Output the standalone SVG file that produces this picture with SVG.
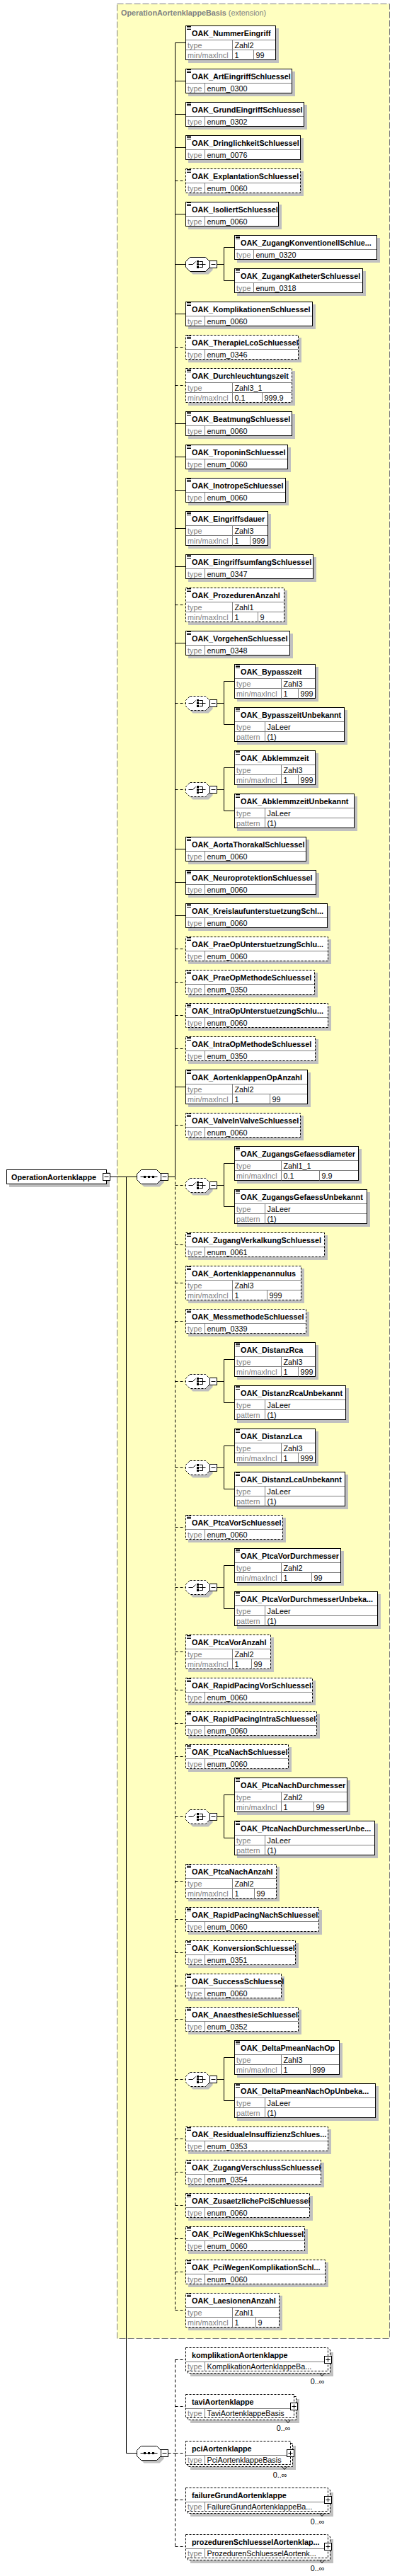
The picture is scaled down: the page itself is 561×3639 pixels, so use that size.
<svg xmlns="http://www.w3.org/2000/svg" width="561" height="3639" viewBox="0 0 561 3639">
<style>
text{font-family:"Liberation Sans",Arial,sans-serif;font-size:10.8px;fill:#000}
.h{font-weight:bold}
.l{fill:#808080}
.sh{fill:#c0c0c0}
.b{fill:#fff;stroke:#000}
.o{stroke-dasharray:3,2}
.g{fill:none;stroke:#808080}
.c{fill:none;stroke:#000}
.d{stroke-dasharray:4,3}
</style>
<defs>
<path id="ann" d="M0,1.5h6M0,3.5h6M0,5.5h6" fill="none" stroke="#000"/>
<path id="oct" d="M6,0H28L34,6V14L28,20H6L0,14V6Z"/>
<g id="chi"><path d="M4,10H10L14,6M19,6H24V14H19M19,10H28" fill="none" stroke="#000"/><path d="M15.5,4.5h3v3h-3zM15.5,8.5h3v3h-3zM15.5,12.5h3v3h-3z" fill="#000"/></g>
<g id="seq"><path d="M5,10H29" fill="none" stroke="#000"/><path d="M9.5,8.5h3v3h-3zM15.5,8.5h3v3h-3zM21.5,8.5h3v3h-3z" fill="#000"/></g>
<g id="mi"><rect width="10" height="10" fill="#fff" stroke="#000"/><path d="M2,5H8" stroke="#000"/></g>
<g id="pl"><rect width="10" height="10" fill="#fff" stroke="#000"/><path d="M2,5H8M5,2V8" stroke="#000"/></g>
</defs>
<rect width="561" height="3639" fill="#fff"/>
<g id="OperationAortenklappeBasis"><rect x="165.5" y="5.5" width="385" height="3298" fill="#ffffc0" stroke="#808080" stroke-dasharray="9,3"/><text class="l" x="171" y="22"><tspan class="h">OperationAortenklappeBasis</tspan> (extension)</text></g>
<g id="connectors" class="c">
<path d="M155.5,1662.5H193.5M178.5,1662.5V3465.5H193.5M237.5,1662.5H247.5M247.5,60.5V1662.5"/>
<path d="M247.5,60.5H262.5M247.5,114.5H262.5M247.5,161.5H262.5M247.5,208.5H262.5M247.5,302.5H262.5M247.5,373.5H262.5M247.5,443.5H262.5M247.5,598.5H262.5M247.5,645.5H262.5M247.5,692.5H262.5M247.5,746.5H262.5M247.5,800.5H262.5M247.5,908.5H262.5M247.5,1199.5H262.5M247.5,1246.5H262.5M247.5,1293.5H262.5M247.5,1535.5H262.5"/>
<path class="d" d="M247.5,1662.5V3263.5M247.5,255.5H262.5M247.5,490.5H262.5M247.5,544.5H262.5M247.5,854.5H262.5M247.5,993.5H262.5M247.5,1115.5H262.5M247.5,1340.5H262.5M247.5,1387.5H262.5M247.5,1434.5H262.5M247.5,1481.5H262.5M247.5,1589.5H262.5M247.5,1674.5H262.5M247.5,1758.5H262.5M247.5,1812.5H262.5M247.5,1866.5H262.5M247.5,1951.5H262.5M247.5,2073.5H262.5M247.5,2157.5H262.5M247.5,2242.5H262.5M247.5,2333.5H262.5M247.5,2387.5H262.5M247.5,2434.5H262.5M247.5,2481.5H262.5M247.5,2566.5H262.5M247.5,2657.5H262.5M247.5,2711.5H262.5M247.5,2758.5H262.5M247.5,2805.5H262.5M247.5,2852.5H262.5M247.5,2937.5H262.5M247.5,3021.5H262.5M247.5,3068.5H262.5M247.5,3115.5H262.5M247.5,3162.5H262.5M247.5,3209.5H262.5M247.5,3263.5H262.5"/>
<path d="M306.5,373.5H316.5M331.5,349.5H316.5V396.5H331.5M306.5,993.5H316.5M331.5,962.5H316.5V1023.5H331.5M306.5,1115.5H316.5M331.5,1084.5H316.5V1145.5H331.5M306.5,1674.5H316.5M331.5,1643.5H316.5V1704.5H331.5M306.5,1951.5H316.5M331.5,1920.5H316.5V1981.5H331.5M306.5,2073.5H316.5M331.5,2042.5H316.5V2103.5H331.5M306.5,2242.5H316.5M331.5,2211.5H316.5V2272.5H331.5M306.5,2566.5H316.5M331.5,2535.5H316.5V2596.5H331.5M306.5,2937.5H316.5M331.5,2906.5H316.5V2967.5H331.5"/>
<path class="d" d="M237.5,3465.5H247.5M247.5,3333.5V3597.5M247.5,3333.5H262.5M247.5,3399.5H262.5M247.5,3465.5H262.5M247.5,3531.5H262.5M247.5,3597.5H262.5"/>
</g>
<g id="OperationAortenklappe"><rect class="sh" x="13" y="1656" width="142" height="21"/><rect class="b" x="9.5" y="1652.5" width="141" height="20"/><text class="h" x="16" y="1666.5">OperationAortenklappe</text><use href="#mi" x="145.5" y="1657.5"/></g>
<g id="sequence1"><use href="#oct" class="sh" x="197.5" y="1656.5"/><use href="#oct" class="b" x="193.5" y="1652.5"/><use href="#seq" x="193.5" y="1652.5"/><use href="#mi" x="227.5" y="1657.5"/></g>
<g id="sequence2"><use href="#oct" class="sh" x="197.5" y="3459.5"/><use href="#oct" class="b" x="193.5" y="3455.5"/><use href="#seq" x="193.5" y="3455.5"/><use href="#mi" x="227.5" y="3460.5"/></g>

<g id="OAK_NummerEingriff"><rect class="sh" x="266" y="40" width="128" height="49"/><rect class="b" x="262.5" y="36.5" width="127" height="48"/><path class="g" d="M263,56.5H389M263,70.5H389M328.5,56.5V84.5M358.5,70.5V84.5"/><use href="#ann" x="264" y="36"/><text class="h" x="271" y="51">OAK_NummerEingriff</text><text class="l" x="265" y="67.5">type</text><text x="331.5" y="67.5">Zahl2</text><text class="l" x="265" y="81.5">min/maxIncl</text><text x="331.5" y="81.5">1</text><text x="361.5" y="81.5">99</text></g>
<g id="OAK_ArtEingriffSchluessel"><rect class="sh" x="266" y="101" width="151" height="35"/><rect class="b" x="262.5" y="97.5" width="150" height="34"/><path class="g" d="M263,117.5H412M289.5,117.5V131.5"/><use href="#ann" x="264" y="97"/><text class="h" x="271" y="112">OAK_ArtEingriffSchluessel</text><text class="l" x="265" y="128.5">type</text><text x="292.5" y="128.5">enum_0300</text></g>
<g id="OAK_GrundEingriffSchluessel"><rect class="sh" x="266" y="148" width="168" height="35"/><rect class="b" x="262.5" y="144.5" width="167" height="34"/><path class="g" d="M263,164.5H429M289.5,164.5V178.5"/><use href="#ann" x="264" y="144"/><text class="h" x="271" y="159">OAK_GrundEingriffSchluessel</text><text class="l" x="265" y="175.5">type</text><text x="292.5" y="175.5">enum_0302</text></g>
<g id="OAK_DringlichkeitSchluessel"><rect class="sh" x="266" y="195" width="163" height="35"/><rect class="b" x="262.5" y="191.5" width="162" height="34"/><path class="g" d="M263,211.5H424M289.5,211.5V225.5"/><use href="#ann" x="264" y="191"/><text class="h" x="271" y="206">OAK_DringlichkeitSchluessel</text><text class="l" x="265" y="222.5">type</text><text x="292.5" y="222.5">enum_0076</text></g>
<g id="OAK_ExplantationSchluessel"><rect class="sh" x="266" y="242" width="163" height="35"/><rect class="b o" x="262.5" y="238.5" width="162" height="34"/><path class="g" d="M263,258.5H424M289.5,258.5V272.5"/><use href="#ann" x="264" y="238"/><text class="h" x="271" y="253">OAK_ExplantationSchluessel</text><text class="l" x="265" y="269.5">type</text><text x="292.5" y="269.5">enum_0060</text></g>
<g id="OAK_IsoliertSchluessel"><rect class="sh" x="266" y="289" width="132" height="35"/><rect class="b" x="262.5" y="285.5" width="131" height="34"/><path class="g" d="M263,305.5H393M289.5,305.5V319.5"/><use href="#ann" x="264" y="285"/><text class="h" x="271" y="300">OAK_IsoliertSchluessel</text><text class="l" x="265" y="316.5">type</text><text x="292.5" y="316.5">enum_0060</text></g>

<g id="choice1"><use href="#oct" class="sh" x="266.5" y="367.5"/><use href="#oct" class="b" x="262.5" y="363.5"/><use href="#chi" x="262.5" y="363.5"/><use href="#mi" x="296.5" y="368.5"/></g>
<g id="OAK_ZugangKonventionellSchluessel"><rect class="sh" x="335" y="336" width="202" height="35"/><rect class="b" x="331.5" y="332.5" width="201" height="34"/><path class="g" d="M332,352.5H532M358.5,352.5V366.5"/><use href="#ann" x="333" y="332"/><text class="h" x="340" y="347">OAK_ZugangKonventionellSchlue...</text><text class="l" x="334" y="363.5">type</text><text x="361.5" y="363.5">enum_0320</text></g>
<g id="OAK_ZugangKatheterSchluessel"><rect class="sh" x="335" y="383" width="182" height="35"/><rect class="b" x="331.5" y="379.5" width="181" height="34"/><path class="g" d="M332,399.5H512M358.5,399.5V413.5"/><use href="#ann" x="333" y="379"/><text class="h" x="340" y="394">OAK_ZugangKatheterSchluessel</text><text class="l" x="334" y="410.5">type</text><text x="361.5" y="410.5">enum_0318</text></g>

<g id="OAK_KomplikationenSchluessel"><rect class="sh" x="266" y="430" width="180" height="35"/><rect class="b" x="262.5" y="426.5" width="179" height="34"/><path class="g" d="M263,446.5H441M289.5,446.5V460.5"/><use href="#ann" x="264" y="426"/><text class="h" x="271" y="441">OAK_KomplikationenSchluessel</text><text class="l" x="265" y="457.5">type</text><text x="292.5" y="457.5">enum_0060</text></g>
<g id="OAK_TherapieLcoSchluessel"><rect class="sh" x="266" y="477" width="160" height="35"/><rect class="b o" x="262.5" y="473.5" width="159" height="34"/><path class="g" d="M263,493.5H421M289.5,493.5V507.5"/><use href="#ann" x="264" y="473"/><text class="h" x="271" y="488">OAK_TherapieLcoSchluessel</text><text class="l" x="265" y="504.5">type</text><text x="292.5" y="504.5">enum_0346</text></g>
<g id="OAK_Durchleuchtungszeit"><rect class="sh" x="266" y="524" width="151" height="49"/><rect class="b o" x="262.5" y="520.5" width="150" height="48"/><path class="g" d="M263,540.5H412M263,554.5H412M328.5,540.5V568.5M370.5,554.5V568.5"/><use href="#ann" x="264" y="520"/><text class="h" x="271" y="535">OAK_Durchleuchtungszeit</text><text class="l" x="265" y="551.5">type</text><text x="331.5" y="551.5">Zahl3_1</text><text class="l" x="265" y="565.5">min/maxIncl</text><text x="331.5" y="565.5">0.1</text><text x="373.5" y="565.5">999.9</text></g>
<g id="OAK_BeatmungSchluessel"><rect class="sh" x="266" y="585" width="151" height="35"/><rect class="b" x="262.5" y="581.5" width="150" height="34"/><path class="g" d="M263,601.5H412M289.5,601.5V615.5"/><use href="#ann" x="264" y="581"/><text class="h" x="271" y="596">OAK_BeatmungSchluessel</text><text class="l" x="265" y="612.5">type</text><text x="292.5" y="612.5">enum_0060</text></g>
<g id="OAK_TroponinSchluessel"><rect class="sh" x="266" y="632" width="145" height="35"/><rect class="b" x="262.5" y="628.5" width="144" height="34"/><path class="g" d="M263,648.5H406M289.5,648.5V662.5"/><use href="#ann" x="264" y="628"/><text class="h" x="271" y="643">OAK_TroponinSchluessel</text><text class="l" x="265" y="659.5">type</text><text x="292.5" y="659.5">enum_0060</text></g>
<g id="OAK_InotropeSchluessel"><rect class="sh" x="266" y="679" width="142" height="35"/><rect class="b" x="262.5" y="675.5" width="141" height="34"/><path class="g" d="M263,695.5H403M289.5,695.5V709.5"/><use href="#ann" x="264" y="675"/><text class="h" x="271" y="690">OAK_InotropeSchluessel</text><text class="l" x="265" y="706.5">type</text><text x="292.5" y="706.5">enum_0060</text></g>
<g id="OAK_Eingriffsdauer"><rect class="sh" x="266" y="726" width="117" height="49"/><rect class="b" x="262.5" y="722.5" width="116" height="48"/><path class="g" d="M263,742.5H378M263,756.5H378M328.5,742.5V770.5M353.5,756.5V770.5"/><use href="#ann" x="264" y="722"/><text class="h" x="271" y="737">OAK_Eingriffsdauer</text><text class="l" x="265" y="753.5">type</text><text x="331.5" y="753.5">Zahl3</text><text class="l" x="265" y="767.5">min/maxIncl</text><text x="331.5" y="767.5">1</text><text x="356.5" y="767.5">999</text></g>
<g id="OAK_EingriffsumfangSchluessel"><rect class="sh" x="266" y="787" width="181" height="35"/><rect class="b" x="262.5" y="783.5" width="180" height="34"/><path class="g" d="M263,803.5H442M289.5,803.5V817.5"/><use href="#ann" x="264" y="783"/><text class="h" x="271" y="798">OAK_EingriffsumfangSchluessel</text><text class="l" x="265" y="814.5">type</text><text x="292.5" y="814.5">enum_0347</text></g>
<g id="OAK_ProzedurenAnzahl"><rect class="sh" x="266" y="834" width="140" height="49"/><rect class="b o" x="262.5" y="830.5" width="139" height="48"/><path class="g" d="M263,850.5H401M263,864.5H401M328.5,850.5V878.5M364.5,864.5V878.5"/><use href="#ann" x="264" y="830"/><text class="h" x="271" y="845">OAK_ProzedurenAnzahl</text><text class="l" x="265" y="861.5">type</text><text x="331.5" y="861.5">Zahl1</text><text class="l" x="265" y="875.5">min/maxIncl</text><text x="331.5" y="875.5">1</text><text x="367.5" y="875.5">9</text></g>
<g id="OAK_VorgehenSchluessel"><rect class="sh" x="266" y="895" width="148" height="35"/><rect class="b" x="262.5" y="891.5" width="147" height="34"/><path class="g" d="M263,911.5H409M289.5,911.5V925.5"/><use href="#ann" x="264" y="891"/><text class="h" x="271" y="906">OAK_VorgehenSchluessel</text><text class="l" x="265" y="922.5">type</text><text x="292.5" y="922.5">enum_0348</text></g>

<g id="choice2"><use href="#oct" class="sh" x="266.5" y="987.5"/><use href="#oct" class="b o" x="262.5" y="983.5"/><use href="#chi" x="262.5" y="983.5"/><use href="#mi" x="296.5" y="988.5"/></g>
<g id="OAK_Bypasszeit"><rect class="sh" x="335" y="942" width="115" height="49"/><rect class="b" x="331.5" y="938.5" width="114" height="48"/><path class="g" d="M332,958.5H445M332,972.5H445M397.5,958.5V986.5M421.5,972.5V986.5"/><use href="#ann" x="333" y="938"/><text class="h" x="340" y="953">OAK_Bypasszeit</text><text class="l" x="334" y="969.5">type</text><text x="400.5" y="969.5">Zahl3</text><text class="l" x="334" y="983.5">min/maxIncl</text><text x="400.5" y="983.5">1</text><text x="424.5" y="983.5">999</text></g>
<g id="OAK_BypasszeitUnbekannt"><rect class="sh" x="335" y="1003" width="156" height="49"/><rect class="b" x="331.5" y="999.5" width="155" height="48"/><path class="g" d="M332,1019.5H486M332,1033.5H486M374.5,1019.5V1047.5"/><use href="#ann" x="333" y="999"/><text class="h" x="340" y="1014">OAK_BypasszeitUnbekannt</text><text class="l" x="334" y="1030.5">type</text><text x="377.5" y="1030.5">JaLeer</text><text class="l" x="334" y="1044.5">pattern</text><text x="377.5" y="1044.5">(1)</text></g>

<g id="choice3"><use href="#oct" class="sh" x="266.5" y="1109.5"/><use href="#oct" class="b o" x="262.5" y="1105.5"/><use href="#chi" x="262.5" y="1105.5"/><use href="#mi" x="296.5" y="1110.5"/></g>
<g id="OAK_Abklemmzeit"><rect class="sh" x="335" y="1064" width="115" height="49"/><rect class="b" x="331.5" y="1060.5" width="114" height="48"/><path class="g" d="M332,1080.5H445M332,1094.5H445M397.5,1080.5V1108.5M421.5,1094.5V1108.5"/><use href="#ann" x="333" y="1060"/><text class="h" x="340" y="1075">OAK_Abklemmzeit</text><text class="l" x="334" y="1091.5">type</text><text x="400.5" y="1091.5">Zahl3</text><text class="l" x="334" y="1105.5">min/maxIncl</text><text x="400.5" y="1105.5">1</text><text x="424.5" y="1105.5">999</text></g>
<g id="OAK_AbklemmzeitUnbekannt"><rect class="sh" x="335" y="1125" width="170" height="49"/><rect class="b" x="331.5" y="1121.5" width="169" height="48"/><path class="g" d="M332,1141.5H500M332,1155.5H500M374.5,1141.5V1169.5"/><use href="#ann" x="333" y="1121"/><text class="h" x="340" y="1136">OAK_AbklemmzeitUnbekannt</text><text class="l" x="334" y="1152.5">type</text><text x="377.5" y="1152.5">JaLeer</text><text class="l" x="334" y="1166.5">pattern</text><text x="377.5" y="1166.5">(1)</text></g>

<g id="OAK_AortaThorakalSchluessel"><rect class="sh" x="266" y="1186" width="171" height="35"/><rect class="b" x="262.5" y="1182.5" width="170" height="34"/><path class="g" d="M263,1202.5H432M289.5,1202.5V1216.5"/><use href="#ann" x="264" y="1182"/><text class="h" x="271" y="1197">OAK_AortaThorakalSchluessel</text><text class="l" x="265" y="1213.5">type</text><text x="292.5" y="1213.5">enum_0060</text></g>
<g id="OAK_NeuroprotektionSchluessel"><rect class="sh" x="266" y="1233" width="185" height="35"/><rect class="b" x="262.5" y="1229.5" width="184" height="34"/><path class="g" d="M263,1249.5H446M289.5,1249.5V1263.5"/><use href="#ann" x="264" y="1229"/><text class="h" x="271" y="1244">OAK_NeuroprotektionSchluessel</text><text class="l" x="265" y="1260.5">type</text><text x="292.5" y="1260.5">enum_0060</text></g>
<g id="OAK_KreislaufunterstuetzungSchluessel"><rect class="sh" x="266" y="1280" width="201" height="35"/><rect class="b" x="262.5" y="1276.5" width="200" height="34"/><path class="g" d="M263,1296.5H462M289.5,1296.5V1310.5"/><use href="#ann" x="264" y="1276"/><text class="h" x="271" y="1291">OAK_KreislaufunterstuetzungSchl...</text><text class="l" x="265" y="1307.5">type</text><text x="292.5" y="1307.5">enum_0060</text></g>
<g id="OAK_PraeOpUnterstuetzungSchluessel"><rect class="sh" x="266" y="1327" width="202" height="35"/><rect class="b o" x="262.5" y="1323.5" width="201" height="34"/><path class="g" d="M263,1343.5H463M289.5,1343.5V1357.5"/><use href="#ann" x="264" y="1323"/><text class="h" x="271" y="1338">OAK_PraeOpUnterstuetzungSchlu...</text><text class="l" x="265" y="1354.5">type</text><text x="292.5" y="1354.5">enum_0060</text></g>
<g id="OAK_PraeOpMethodeSchluessel"><rect class="sh" x="266" y="1374" width="183" height="35"/><rect class="b o" x="262.5" y="1370.5" width="182" height="34"/><path class="g" d="M263,1390.5H444M289.5,1390.5V1404.5"/><use href="#ann" x="264" y="1370"/><text class="h" x="271" y="1385">OAK_PraeOpMethodeSchluessel</text><text class="l" x="265" y="1401.5">type</text><text x="292.5" y="1401.5">enum_0350</text></g>
<g id="OAK_IntraOpUnterstuetzungSchluessel"><rect class="sh" x="266" y="1421" width="202" height="35"/><rect class="b o" x="262.5" y="1417.5" width="201" height="34"/><path class="g" d="M263,1437.5H463M289.5,1437.5V1451.5"/><use href="#ann" x="264" y="1417"/><text class="h" x="271" y="1432">OAK_IntraOpUnterstuetzungSchlu...</text><text class="l" x="265" y="1448.5">type</text><text x="292.5" y="1448.5">enum_0060</text></g>
<g id="OAK_IntraOpMethodeSchluessel"><rect class="sh" x="266" y="1468" width="184" height="35"/><rect class="b o" x="262.5" y="1464.5" width="183" height="34"/><path class="g" d="M263,1484.5H445M289.5,1484.5V1498.5"/><use href="#ann" x="264" y="1464"/><text class="h" x="271" y="1479">OAK_IntraOpMethodeSchluessel</text><text class="l" x="265" y="1495.5">type</text><text x="292.5" y="1495.5">enum_0350</text></g>
<g id="OAK_AortenklappenOpAnzahl"><rect class="sh" x="266" y="1515" width="173" height="49"/><rect class="b" x="262.5" y="1511.5" width="172" height="48"/><path class="g" d="M263,1531.5H434M263,1545.5H434M328.5,1531.5V1559.5M381.5,1545.5V1559.5"/><use href="#ann" x="264" y="1511"/><text class="h" x="271" y="1526">OAK_AortenklappenOpAnzahl</text><text class="l" x="265" y="1542.5">type</text><text x="331.5" y="1542.5">Zahl2</text><text class="l" x="265" y="1556.5">min/maxIncl</text><text x="331.5" y="1556.5">1</text><text x="384.5" y="1556.5">99</text></g>
<g id="OAK_ValveInValveSchluessel"><rect class="sh" x="266" y="1576" width="163" height="35"/><rect class="b o" x="262.5" y="1572.5" width="162" height="34"/><path class="g" d="M263,1592.5H424M289.5,1592.5V1606.5"/><use href="#ann" x="264" y="1572"/><text class="h" x="271" y="1587">OAK_ValveInValveSchluessel</text><text class="l" x="265" y="1603.5">type</text><text x="292.5" y="1603.5">enum_0060</text></g>

<g id="choice4"><use href="#oct" class="sh" x="266.5" y="1668.5"/><use href="#oct" class="b o" x="262.5" y="1664.5"/><use href="#chi" x="262.5" y="1664.5"/><use href="#mi" x="296.5" y="1669.5"/></g>
<g id="OAK_ZugangsGefaessdiameter"><rect class="sh" x="335" y="1623" width="176" height="49"/><rect class="b" x="331.5" y="1619.5" width="175" height="48"/><path class="g" d="M332,1639.5H506M332,1653.5H506M397.5,1639.5V1667.5M451.5,1653.5V1667.5"/><use href="#ann" x="333" y="1619"/><text class="h" x="340" y="1634">OAK_ZugangsGefaessdiameter</text><text class="l" x="334" y="1650.5">type</text><text x="400.5" y="1650.5">Zahl1_1</text><text class="l" x="334" y="1664.5">min/maxIncl</text><text x="400.5" y="1664.5">0.1</text><text x="454.5" y="1664.5">9.9</text></g>
<g id="OAK_ZugangsGefaessUnbekannt"><rect class="sh" x="335" y="1684" width="188" height="49"/><rect class="b" x="331.5" y="1680.5" width="187" height="48"/><path class="g" d="M332,1700.5H518M332,1714.5H518M374.5,1700.5V1728.5"/><use href="#ann" x="333" y="1680"/><text class="h" x="340" y="1695">OAK_ZugangsGefaessUnbekannt</text><text class="l" x="334" y="1711.5">type</text><text x="377.5" y="1711.5">JaLeer</text><text class="l" x="334" y="1725.5">pattern</text><text x="377.5" y="1725.5">(1)</text></g>

<g id="OAK_ZugangVerkalkungSchluessel"><rect class="sh" x="266" y="1745" width="197" height="35"/><rect class="b o" x="262.5" y="1741.5" width="196" height="34"/><path class="g" d="M263,1761.5H458M289.5,1761.5V1775.5"/><use href="#ann" x="264" y="1741"/><text class="h" x="271" y="1756">OAK_ZugangVerkalkungSchluessel</text><text class="l" x="265" y="1772.5">type</text><text x="292.5" y="1772.5">enum_0061</text></g>
<g id="OAK_Aortenklappenannulus"><rect class="sh" x="266" y="1792" width="164" height="49"/><rect class="b o" x="262.5" y="1788.5" width="163" height="48"/><path class="g" d="M263,1808.5H425M263,1822.5H425M328.5,1808.5V1836.5M377.5,1822.5V1836.5"/><use href="#ann" x="264" y="1788"/><text class="h" x="271" y="1803">OAK_Aortenklappenannulus</text><text class="l" x="265" y="1819.5">type</text><text x="331.5" y="1819.5">Zahl3</text><text class="l" x="265" y="1833.5">min/maxIncl</text><text x="331.5" y="1833.5">1</text><text x="380.5" y="1833.5">999</text></g>
<g id="OAK_MessmethodeSchluessel"><rect class="sh" x="266" y="1853" width="171" height="35"/><rect class="b o" x="262.5" y="1849.5" width="170" height="34"/><path class="g" d="M263,1869.5H432M289.5,1869.5V1883.5"/><use href="#ann" x="264" y="1849"/><text class="h" x="271" y="1864">OAK_MessmethodeSchluessel</text><text class="l" x="265" y="1880.5">type</text><text x="292.5" y="1880.5">enum_0339</text></g>

<g id="choice5"><use href="#oct" class="sh" x="266.5" y="1945.5"/><use href="#oct" class="b o" x="262.5" y="1941.5"/><use href="#chi" x="262.5" y="1941.5"/><use href="#mi" x="296.5" y="1946.5"/></g>
<g id="OAK_DistanzRca"><rect class="sh" x="335" y="1900" width="115" height="49"/><rect class="b" x="331.5" y="1896.5" width="114" height="48"/><path class="g" d="M332,1916.5H445M332,1930.5H445M397.5,1916.5V1944.5M421.5,1930.5V1944.5"/><use href="#ann" x="333" y="1896"/><text class="h" x="340" y="1911">OAK_DistanzRca</text><text class="l" x="334" y="1927.5">type</text><text x="400.5" y="1927.5">Zahl3</text><text class="l" x="334" y="1941.5">min/maxIncl</text><text x="400.5" y="1941.5">1</text><text x="424.5" y="1941.5">999</text></g>
<g id="OAK_DistanzRcaUnbekannt"><rect class="sh" x="335" y="1961" width="158" height="49"/><rect class="b" x="331.5" y="1957.5" width="157" height="48"/><path class="g" d="M332,1977.5H488M332,1991.5H488M374.5,1977.5V2005.5"/><use href="#ann" x="333" y="1957"/><text class="h" x="340" y="1972">OAK_DistanzRcaUnbekannt</text><text class="l" x="334" y="1988.5">type</text><text x="377.5" y="1988.5">JaLeer</text><text class="l" x="334" y="2002.5">pattern</text><text x="377.5" y="2002.5">(1)</text></g>

<g id="choice6"><use href="#oct" class="sh" x="266.5" y="2067.5"/><use href="#oct" class="b o" x="262.5" y="2063.5"/><use href="#chi" x="262.5" y="2063.5"/><use href="#mi" x="296.5" y="2068.5"/></g>
<g id="OAK_DistanzLca"><rect class="sh" x="335" y="2022" width="115" height="49"/><rect class="b" x="331.5" y="2018.5" width="114" height="48"/><path class="g" d="M332,2038.5H445M332,2052.5H445M397.5,2038.5V2066.5M421.5,2052.5V2066.5"/><use href="#ann" x="333" y="2018"/><text class="h" x="340" y="2033">OAK_DistanzLca</text><text class="l" x="334" y="2049.5">type</text><text x="400.5" y="2049.5">Zahl3</text><text class="l" x="334" y="2063.5">min/maxIncl</text><text x="400.5" y="2063.5">1</text><text x="424.5" y="2063.5">999</text></g>
<g id="OAK_DistanzLcaUnbekannt"><rect class="sh" x="335" y="2083" width="157" height="49"/><rect class="b" x="331.5" y="2079.5" width="156" height="48"/><path class="g" d="M332,2099.5H487M332,2113.5H487M374.5,2099.5V2127.5"/><use href="#ann" x="333" y="2079"/><text class="h" x="340" y="2094">OAK_DistanzLcaUnbekannt</text><text class="l" x="334" y="2110.5">type</text><text x="377.5" y="2110.5">JaLeer</text><text class="l" x="334" y="2124.5">pattern</text><text x="377.5" y="2124.5">(1)</text></g>

<g id="OAK_PtcaVorSchluessel"><rect class="sh" x="266" y="2144" width="138" height="35"/><rect class="b o" x="262.5" y="2140.5" width="137" height="34"/><path class="g" d="M263,2160.5H399M289.5,2160.5V2174.5"/><use href="#ann" x="264" y="2140"/><text class="h" x="271" y="2155">OAK_PtcaVorSchluessel</text><text class="l" x="265" y="2171.5">type</text><text x="292.5" y="2171.5">enum_0060</text></g>

<g id="choice7"><use href="#oct" class="sh" x="266.5" y="2236.5"/><use href="#oct" class="b o" x="262.5" y="2232.5"/><use href="#chi" x="262.5" y="2232.5"/><use href="#mi" x="296.5" y="2237.5"/></g>
<g id="OAK_PtcaVorDurchmesser"><rect class="sh" x="335" y="2191" width="151" height="49"/><rect class="b" x="331.5" y="2187.5" width="150" height="48"/><path class="g" d="M332,2207.5H481M332,2221.5H481M397.5,2207.5V2235.5M440.5,2221.5V2235.5"/><use href="#ann" x="333" y="2187"/><text class="h" x="340" y="2202">OAK_PtcaVorDurchmesser</text><text class="l" x="334" y="2218.5">type</text><text x="400.5" y="2218.5">Zahl2</text><text class="l" x="334" y="2232.5">min/maxIncl</text><text x="400.5" y="2232.5">1</text><text x="443.5" y="2232.5">99</text></g>
<g id="OAK_PtcaVorDurchmesserUnbekannt"><rect class="sh" x="335" y="2252" width="203" height="49"/><rect class="b" x="331.5" y="2248.5" width="202" height="48"/><path class="g" d="M332,2268.5H533M332,2282.5H533M374.5,2268.5V2296.5"/><use href="#ann" x="333" y="2248"/><text class="h" x="340" y="2263">OAK_PtcaVorDurchmesserUnbeka...</text><text class="l" x="334" y="2279.5">type</text><text x="377.5" y="2279.5">JaLeer</text><text class="l" x="334" y="2293.5">pattern</text><text x="377.5" y="2293.5">(1)</text></g>

<g id="OAK_PtcaVorAnzahl"><rect class="sh" x="266" y="2313" width="121" height="49"/><rect class="b o" x="262.5" y="2309.5" width="120" height="48"/><path class="g" d="M263,2329.5H382M263,2343.5H382M328.5,2329.5V2357.5M355.5,2343.5V2357.5"/><use href="#ann" x="264" y="2309"/><text class="h" x="271" y="2324">OAK_PtcaVorAnzahl</text><text class="l" x="265" y="2340.5">type</text><text x="331.5" y="2340.5">Zahl2</text><text class="l" x="265" y="2354.5">min/maxIncl</text><text x="331.5" y="2354.5">1</text><text x="358.5" y="2354.5">99</text></g>
<g id="OAK_RapidPacingVorSchluessel"><rect class="sh" x="266" y="2374" width="180" height="35"/><rect class="b o" x="262.5" y="2370.5" width="179" height="34"/><path class="g" d="M263,2390.5H441M289.5,2390.5V2404.5"/><use href="#ann" x="264" y="2370"/><text class="h" x="271" y="2385">OAK_RapidPacingVorSchluessel</text><text class="l" x="265" y="2401.5">type</text><text x="292.5" y="2401.5">enum_0060</text></g>
<g id="OAK_RapidPacingIntraSchluessel"><rect class="sh" x="266" y="2421" width="186" height="35"/><rect class="b o" x="262.5" y="2417.5" width="185" height="34"/><path class="g" d="M263,2437.5H447M289.5,2437.5V2451.5"/><use href="#ann" x="264" y="2417"/><text class="h" x="271" y="2432">OAK_RapidPacingIntraSchluessel</text><text class="l" x="265" y="2448.5">type</text><text x="292.5" y="2448.5">enum_0060</text></g>
<g id="OAK_PtcaNachSchluessel"><rect class="sh" x="266" y="2468" width="146" height="35"/><rect class="b o" x="262.5" y="2464.5" width="145" height="34"/><path class="g" d="M263,2484.5H407M289.5,2484.5V2498.5"/><use href="#ann" x="264" y="2464"/><text class="h" x="271" y="2479">OAK_PtcaNachSchluessel</text><text class="l" x="265" y="2495.5">type</text><text x="292.5" y="2495.5">enum_0060</text></g>

<g id="choice8"><use href="#oct" class="sh" x="266.5" y="2560.5"/><use href="#oct" class="b o" x="262.5" y="2556.5"/><use href="#chi" x="262.5" y="2556.5"/><use href="#mi" x="296.5" y="2561.5"/></g>
<g id="OAK_PtcaNachDurchmesser"><rect class="sh" x="335" y="2515" width="160" height="49"/><rect class="b" x="331.5" y="2511.5" width="159" height="48"/><path class="g" d="M332,2531.5H490M332,2545.5H490M397.5,2531.5V2559.5M443.5,2545.5V2559.5"/><use href="#ann" x="333" y="2511"/><text class="h" x="340" y="2526">OAK_PtcaNachDurchmesser</text><text class="l" x="334" y="2542.5">type</text><text x="400.5" y="2542.5">Zahl2</text><text class="l" x="334" y="2556.5">min/maxIncl</text><text x="400.5" y="2556.5">1</text><text x="446.5" y="2556.5">99</text></g>
<g id="OAK_PtcaNachDurchmesserUnbekannt"><rect class="sh" x="335" y="2576" width="199" height="49"/><rect class="b" x="331.5" y="2572.5" width="198" height="48"/><path class="g" d="M332,2592.5H529M332,2606.5H529M374.5,2592.5V2620.5"/><use href="#ann" x="333" y="2572"/><text class="h" x="340" y="2587">OAK_PtcaNachDurchmesserUnbe...</text><text class="l" x="334" y="2603.5">type</text><text x="377.5" y="2603.5">JaLeer</text><text class="l" x="334" y="2617.5">pattern</text><text x="377.5" y="2617.5">(1)</text></g>

<g id="OAK_PtcaNachAnzahl"><rect class="sh" x="266" y="2637" width="129" height="49"/><rect class="b o" x="262.5" y="2633.5" width="128" height="48"/><path class="g" d="M263,2653.5H390M263,2667.5H390M328.5,2653.5V2681.5M359.5,2667.5V2681.5"/><use href="#ann" x="264" y="2633"/><text class="h" x="271" y="2648">OAK_PtcaNachAnzahl</text><text class="l" x="265" y="2664.5">type</text><text x="331.5" y="2664.5">Zahl2</text><text class="l" x="265" y="2678.5">min/maxIncl</text><text x="331.5" y="2678.5">1</text><text x="362.5" y="2678.5">99</text></g>
<g id="OAK_RapidPacingNachSchluessel"><rect class="sh" x="266" y="2698" width="189" height="35"/><rect class="b o" x="262.5" y="2694.5" width="188" height="34"/><path class="g" d="M263,2714.5H450M289.5,2714.5V2728.5"/><use href="#ann" x="264" y="2694"/><text class="h" x="271" y="2709">OAK_RapidPacingNachSchluessel</text><text class="l" x="265" y="2725.5">type</text><text x="292.5" y="2725.5">enum_0060</text></g>
<g id="OAK_KonversionSchluessel"><rect class="sh" x="266" y="2745" width="156" height="35"/><rect class="b o" x="262.5" y="2741.5" width="155" height="34"/><path class="g" d="M263,2761.5H417M289.5,2761.5V2775.5"/><use href="#ann" x="264" y="2741"/><text class="h" x="271" y="2756">OAK_KonversionSchluessel</text><text class="l" x="265" y="2772.5">type</text><text x="292.5" y="2772.5">enum_0351</text></g>
<g id="OAK_SuccessSchluessel"><rect class="sh" x="266" y="2792" width="136" height="35"/><rect class="b o" x="262.5" y="2788.5" width="135" height="34"/><path class="g" d="M263,2808.5H397M289.5,2808.5V2822.5"/><use href="#ann" x="264" y="2788"/><text class="h" x="271" y="2803">OAK_SuccessSchluessel</text><text class="l" x="265" y="2819.5">type</text><text x="292.5" y="2819.5">enum_0060</text></g>
<g id="OAK_AnaesthesieSchluessel"><rect class="sh" x="266" y="2839" width="160" height="35"/><rect class="b o" x="262.5" y="2835.5" width="159" height="34"/><path class="g" d="M263,2855.5H421M289.5,2855.5V2869.5"/><use href="#ann" x="264" y="2835"/><text class="h" x="271" y="2850">OAK_AnaesthesieSchluessel</text><text class="l" x="265" y="2866.5">type</text><text x="292.5" y="2866.5">enum_0352</text></g>

<g id="choice9"><use href="#oct" class="sh" x="266.5" y="2931.5"/><use href="#oct" class="b o" x="262.5" y="2927.5"/><use href="#chi" x="262.5" y="2927.5"/><use href="#mi" x="296.5" y="2932.5"/></g>
<g id="OAK_DeltaPmeanNachOp"><rect class="sh" x="335" y="2886" width="149" height="49"/><rect class="b" x="331.5" y="2882.5" width="148" height="48"/><path class="g" d="M332,2902.5H479M332,2916.5H479M397.5,2902.5V2930.5M438.5,2916.5V2930.5"/><use href="#ann" x="333" y="2882"/><text class="h" x="340" y="2897">OAK_DeltaPmeanNachOp</text><text class="l" x="334" y="2913.5">type</text><text x="400.5" y="2913.5">Zahl3</text><text class="l" x="334" y="2927.5">min/maxIncl</text><text x="400.5" y="2927.5">1</text><text x="441.5" y="2927.5">999</text></g>
<g id="OAK_DeltaPmeanNachOpUnbekannt"><rect class="sh" x="335" y="2947" width="200" height="49"/><rect class="b" x="331.5" y="2943.5" width="199" height="48"/><path class="g" d="M332,2963.5H530M332,2977.5H530M374.5,2963.5V2991.5"/><use href="#ann" x="333" y="2943"/><text class="h" x="340" y="2958">OAK_DeltaPmeanNachOpUnbeka...</text><text class="l" x="334" y="2974.5">type</text><text x="377.5" y="2974.5">JaLeer</text><text class="l" x="334" y="2988.5">pattern</text><text x="377.5" y="2988.5">(1)</text></g>

<g id="OAK_ResidualeInsuffizienzSchluessel"><rect class="sh" x="266" y="3008" width="202" height="35"/><rect class="b o" x="262.5" y="3004.5" width="201" height="34"/><path class="g" d="M263,3024.5H463M289.5,3024.5V3038.5"/><use href="#ann" x="264" y="3004"/><text class="h" x="271" y="3019">OAK_ResidualeInsuffizienzSchlues...</text><text class="l" x="265" y="3035.5">type</text><text x="292.5" y="3035.5">enum_0353</text></g>
<g id="OAK_ZugangVerschlussSchluessel"><rect class="sh" x="266" y="3055" width="192" height="35"/><rect class="b o" x="262.5" y="3051.5" width="191" height="34"/><path class="g" d="M263,3071.5H453M289.5,3071.5V3085.5"/><use href="#ann" x="264" y="3051"/><text class="h" x="271" y="3066">OAK_ZugangVerschlussSchluessel</text><text class="l" x="265" y="3082.5">type</text><text x="292.5" y="3082.5">enum_0354</text></g>
<g id="OAK_ZusaetzlichePciSchluessel"><rect class="sh" x="266" y="3102" width="176" height="35"/><rect class="b o" x="262.5" y="3098.5" width="175" height="34"/><path class="g" d="M263,3118.5H437M289.5,3118.5V3132.5"/><use href="#ann" x="264" y="3098"/><text class="h" x="271" y="3113">OAK_ZusaetzlichePciSchluessel</text><text class="l" x="265" y="3129.5">type</text><text x="292.5" y="3129.5">enum_0060</text></g>
<g id="OAK_PciWegenKhkSchluessel"><rect class="sh" x="266" y="3149" width="169" height="35"/><rect class="b o" x="262.5" y="3145.5" width="168" height="34"/><path class="g" d="M263,3165.5H430M289.5,3165.5V3179.5"/><use href="#ann" x="264" y="3145"/><text class="h" x="271" y="3160">OAK_PciWegenKhkSchluessel</text><text class="l" x="265" y="3176.5">type</text><text x="292.5" y="3176.5">enum_0060</text></g>
<g id="OAK_PciWegenKomplikationSchluessel"><rect class="sh" x="266" y="3196" width="198" height="35"/><rect class="b o" x="262.5" y="3192.5" width="197" height="34"/><path class="g" d="M263,3212.5H459M289.5,3212.5V3226.5"/><use href="#ann" x="264" y="3192"/><text class="h" x="271" y="3207">OAK_PciWegenKomplikationSchl...</text><text class="l" x="265" y="3223.5">type</text><text x="292.5" y="3223.5">enum_0060</text></g>
<g id="OAK_LaesionenAnzahl"><rect class="sh" x="266" y="3243" width="133" height="49"/><rect class="b o" x="262.5" y="3239.5" width="132" height="48"/><path class="g" d="M263,3259.5H394M263,3273.5H394M328.5,3259.5V3287.5M361.5,3273.5V3287.5"/><use href="#ann" x="264" y="3239"/><text class="h" x="271" y="3254">OAK_LaesionenAnzahl</text><text class="l" x="265" y="3270.5">type</text><text x="331.5" y="3270.5">Zahl1</text><text class="l" x="265" y="3284.5">min/maxIncl</text><text x="331.5" y="3284.5">1</text><text x="364.5" y="3284.5">9</text></g>

<g id="komplikationAortenklappe"><rect class="sh" x="269" y="3323" width="202" height="34"/><rect class="b o" x="265.5" y="3319.5" width="201" height="33"/><rect class="b o" x="262.5" y="3316.5" width="201" height="33"/><path class="g" d="M263,3336.5H463M289.5,3336.5V3349"/><text class="h" x="271" y="3331">komplikationAortenklappe</text><text class="l" x="265" y="3346.5">type</text><text x="292.5" y="3346.5">KomplikationAortenklappeBa...</text><use href="#pl" x="458.5" y="3328.5"/><path class="c" d="M451.5,3352.5L455,3356.5L458.5,3352.5"/><text x="458.5" y="3367.5" text-anchor="end">0..∞</text></g>
<g id="taviAortenklappe"><rect class="sh" x="269" y="3389" width="154" height="34"/><rect class="b o" x="265.5" y="3385.5" width="153" height="33"/><rect class="b o" x="262.5" y="3382.5" width="153" height="33"/><path class="g" d="M263,3402.5H415M289.5,3402.5V3415"/><text class="h" x="271" y="3397">taviAortenklappe</text><text class="l" x="265" y="3412.5">type</text><text x="292.5" y="3412.5">TaviAortenklappeBasis</text><use href="#pl" x="410.5" y="3394.5"/><path class="c" d="M403.5,3418.5L407,3422.5L410.5,3418.5"/><text x="410.5" y="3433.5" text-anchor="end">0..∞</text></g>
<g id="pciAortenklappe"><rect class="sh" x="269" y="3455" width="149" height="34"/><rect class="b o" x="265.5" y="3451.5" width="148" height="33"/><rect class="b o" x="262.5" y="3448.5" width="148" height="33"/><path class="g" d="M263,3468.5H410M289.5,3468.5V3481"/><text class="h" x="271" y="3463">pciAortenklappe</text><text class="l" x="265" y="3478.5">type</text><text x="292.5" y="3478.5">PciAortenklappeBasis</text><use href="#pl" x="405.5" y="3460.5"/><path class="c" d="M398.5,3484.5L402,3488.5L405.5,3484.5"/><text x="405.5" y="3499.5" text-anchor="end">0..∞</text></g>
<g id="failureGrundAortenklappe"><rect class="sh" x="269" y="3521" width="202" height="34"/><rect class="b o" x="265.5" y="3517.5" width="201" height="33"/><rect class="b o" x="262.5" y="3514.5" width="201" height="33"/><path class="g" d="M263,3534.5H463M289.5,3534.5V3547"/><text class="h" x="271" y="3529">failureGrundAortenklappe</text><text class="l" x="265" y="3544.5">type</text><text x="292.5" y="3544.5">FailureGrundAortenklappeBa...</text><use href="#pl" x="458.5" y="3526.5"/><path class="c" d="M451.5,3550.5L455,3554.5L458.5,3550.5"/><text x="458.5" y="3565.5" text-anchor="end">0..∞</text></g>
<g id="prozedurenSchluesselAortenklappe"><rect class="sh" x="269" y="3587" width="202" height="34"/><rect class="b o" x="265.5" y="3583.5" width="201" height="33"/><rect class="b o" x="262.5" y="3580.5" width="201" height="33"/><path class="g" d="M263,3600.5H463M289.5,3600.5V3613"/><text class="h" x="271" y="3595">prozedurenSchluesselAortenklap...</text><text class="l" x="265" y="3610.5">type</text><text x="292.5" y="3610.5">ProzedurenSchluesselAortenk...</text><use href="#pl" x="458.5" y="3592.5"/><path class="c" d="M451.5,3616.5L455,3620.5L458.5,3616.5"/><text x="458.5" y="3631.5" text-anchor="end">0..∞</text></g>
</svg>
